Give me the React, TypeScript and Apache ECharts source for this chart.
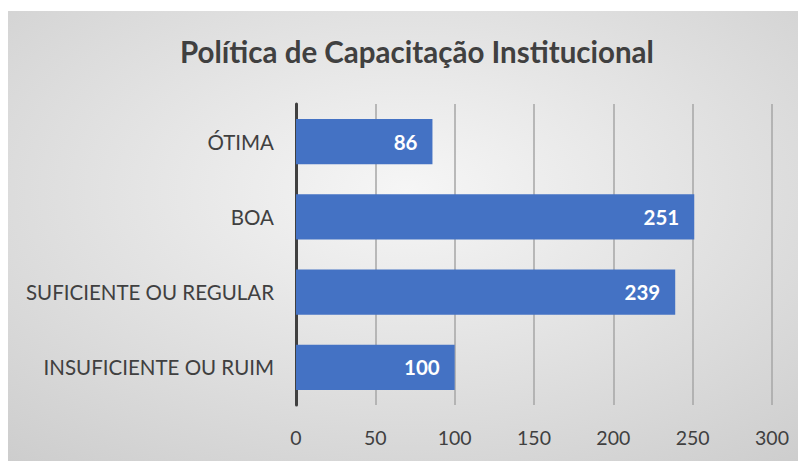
import React, { useEffect, useRef } from "react";
import * as echarts from "echarts";

const categories = ["INSUFICIENTE OU RUIM", "SUFICIENTE OU REGULAR", "BOA", "ÓTIMA"];
const values = [100, 239, 251, 86];
const title = "Política de Capacitação Institucional";

export default function App() {
  const ref = useRef<HTMLDivElement>(null);
  useEffect(() => {
    const chart = echarts.init(ref.current!, null, { renderer: "svg" });
    const font = "Lato, 'Open Sans', sans-serif";
    chart.setOption({
      animation: false,
      backgroundColor: {
        type: "radial",
        x: 0.5,
        y: 0.4,
        r: 0.8,
        colorStops: [
          { offset: 0, color: "#f6f6f6" },
          { offset: 1, color: "#cccccc" },
        ],
      },
      title: {
        text: title,
        left: 167,
        top: 20,
        textStyle: { fontFamily: font, fontWeight: "bold", fontSize: 29.5, color: "#404040" },
      },
      grid: { left: 288, right: 34, top: 93, bottom: 56, containLabel: false },
      xAxis: {
        type: "value",
        min: 0,
        max: 300,
        interval: 50,
        axisLine: { show: false },
        axisTick: { show: false },
        splitLine: { show: true, lineStyle: { color: "#a6a6a6", width: 1.5 } },
        axisLabel: { fontFamily: font, fontSize: 19.5, color: "#404040", margin: 22 },
      },
      yAxis: {
        type: "category",
        data: categories,
        axisLine: { show: true, lineStyle: { color: "#404040", width: 3 } },
        axisTick: { show: false },
        axisLabel: { fontFamily: font, fontSize: 20.5, color: "#404040", margin: 22 },
      },
      series: [
        {
          type: "bar",
          data: values,
          barCategoryGap: "40%",
          itemStyle: { color: "#4472C4" },
          label: {
            show: true,
            position: "insideRight",
            distance: 15,
            color: "#ffffff",
            fontFamily: font,
            fontWeight: "bold",
            fontSize: 20.5,
          },
        },
      ],
    });
    return () => chart.dispose();
  }, []);
  return (
    <div style={{ paddingTop: 3 }}>
      <div ref={ref} style={{ width: 798, height: 450 }} />
    </div>
  );
}
